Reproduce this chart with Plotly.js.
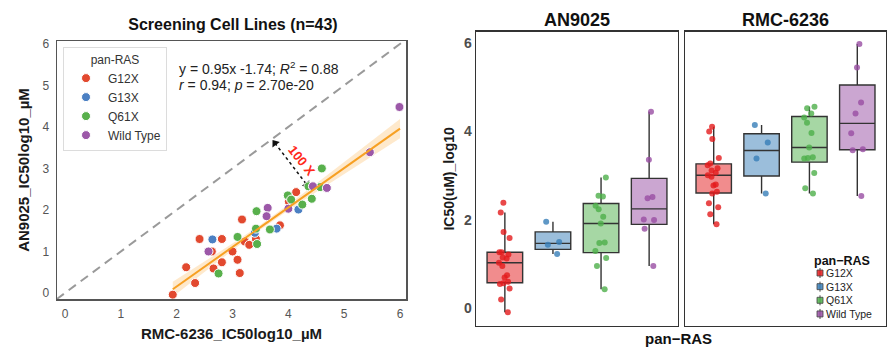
<!DOCTYPE html>
<html>
<head>
<meta charset="utf-8">
<script src="https://cdn.plot.ly/plotly-3.0.1.min.js"></script>
<style>html,body{margin:0;padding:0;background:#fff}#chart{width:893px;height:351px}</style>
</head>
<body>
<div id="chart"></div>
<script>
// ---------- scatter data (x = RMC-6236 IC50 log10, y = AN9025 IC50 log10) ----------
const groups = ['G12X', 'G13X', 'Q61X', 'Wild Type'];

const g12xRMC = [1.93, 2.17, 2.33, 2.41, 2.63, 2.66, 2.81, 2.81, 3.00, 3.09, 3.13, 3.17, 3.22, 3.30, 3.42, 3.85, 4.14, 4.01];
const g12xAN  = [-0.04, 0.62, 0.24, 1.30, 1.00, 0.59, 1.30, 0.74, 1.00, 0.80, 0.48, 1.77, 1.24, 1.16, 1.30, 1.63, 2.43, 2.20];
const g13xRMC = [2.64, 3.79, 4.18, 3.40];
const g13xAN  = [1.29, 1.55, 2.01, 1.45];
const q61xRMC = [2.75, 3.09, 3.42, 3.43, 3.44, 3.67, 3.99, 4.25, 4.42, 4.60, 4.57, 4.36, 4.05];
const q61xAN  = [0.47, 1.35, 1.55, 1.97, 1.18, 1.53, 2.35, 2.13, 2.27, 3.00, 2.55, 2.57, 2.25];
const wtRMC   = [5.99, 5.46, 4.69, 4.44, 3.63, 3.61, 4.00, 2.57];
const wtAN    = [4.48, 3.39, 2.53, 2.57, 2.05, 1.85, 2.03, 1.00];

// fitted line and its confidence band
const fitX = [1.93, 6.0];
const fitY = [0.09, 3.96];
const bandX     = [1.93, 2.5, 3.0, 3.5, 4.0, 4.5, 5.0, 5.5, 6.0];
const bandUpper = [0.27, 0.76, 1.19, 1.645, 2.13, 2.64, 3.16, 3.68, 4.19];
const bandLower = [-0.09, 0.51, 1.03, 1.525, 1.99, 2.43, 2.86, 3.29, 3.73];
const identityLine = [-0.15, 6.1];
// the "100 X" double arrow between the identity line and the fit
const arrowX = [3.76, 4.33];
const arrowY = [3.61, 2.61];

// ---------- box plot data ----------
const anG12X = [2.39, 2.17, 1.73, 1.59, 1.27, 1.27, 1.22, 1.15, 1.13, 1.03, 0.96, 0.75, 0.70, 0.60, 0.57, 0.55, 0.45, 0.20, -0.09];
const anG13X = [1.96, 1.50, 1.44, 1.23];
const anQ61X = [2.96, 2.55, 2.53, 2.32, 2.24, 2.07, 1.92, 1.49, 1.48, 1.30, 1.14, 0.96, 0.43];
const anWT   = [4.45, 3.36, 2.52, 2.49, 2.01, 2.00, 1.80, 0.96];
const rmcG12X = [4.11, 4.00, 3.83, 3.40, 3.28, 3.24, 3.17, 3.12, 3.07, 3.01, 2.98, 2.80, 2.78, 2.64, 2.60, 2.38, 2.29, 2.13, 1.90];
const rmcG13X = [4.15, 3.75, 3.39, 2.60];
const rmcQ61X = [4.56, 4.53, 4.41, 4.32, 3.97, 3.64, 3.42, 3.40, 3.39, 3.06, 2.72, 2.60, 4.20];
const rmcWT   = [5.98, 5.45, 4.66, 4.41, 3.96, 3.60, 3.58, 2.54];

const scatterColors = ['#e2492f', '#4b80c3', '#58b04c', '#9c58a8'];
const boxColors = [[228, 26, 28], [55, 126, 184], [77, 175, 74], [152, 78, 163]];
const rgba = (c, a) => `rgba(${c[0]},${c[1]},${c[2]},${a})`;

const FONT = 'Liberation Sans, Arial, Helvetica, sans-serif';
const traces = [];

// confidence band
traces.push({x: bandX, y: bandLower, mode: 'lines', line: {width: 0, color: 'rgba(0,0,0,0)'},
  showlegend: false, hoverinfo: 'skip', xaxis: 'x', yaxis: 'y'});
traces.push({x: bandX, y: bandUpper, mode: 'lines', line: {width: 0, color: 'rgba(0,0,0,0)'},
  fill: 'tonexty', fillcolor: 'rgba(253,196,120,0.38)', showlegend: false, hoverinfo: 'skip', xaxis: 'x', yaxis: 'y'});
// identity line
traces.push({x: identityLine, y: identityLine, mode: 'lines',
  line: {color: '#9a9a9a', width: 2, dash: '9px,6px'}, showlegend: false, xaxis: 'x', yaxis: 'y'});
// double arrow (dotted shaft, triangle heads)
traces.push({x: arrowX, y: arrowY, mode: 'lines+markers', showlegend: false, xaxis: 'x', yaxis: 'y',
  line: {color: '#111', width: 1.5, dash: 'dot'},
  marker: {symbol: 'triangle-up', size: 8, color: '#111', angle: [-37, 143], line: {width: 0}}});

const scX = [g12xRMC, g13xRMC, q61xRMC, wtRMC];
const scY = [g12xAN, g13xAN, q61xAN, wtAN];
groups.forEach((g, i) => {
  traces.push({x: scX[i], y: scY[i], mode: 'markers', type: 'scatter', name: g,
    marker: {color: scatterColors[i], size: 9, line: {color: '#ffffff', width: 1}},
    xaxis: 'x', yaxis: 'y', legend: 'legend'});
});
// fitted line on top
traces.push({x: fitX, y: fitY, mode: 'lines', line: {color: '#f7a023', width: 2},
  showlegend: false, xaxis: 'x', yaxis: 'y'});

const anSets = [anG12X, anG13X, anQ61X, anWT];
const rmcSets = [rmcG12X, rmcG13X, rmcQ61X, rmcWT];
function boxTrace(vals, i, xa, ya) {
  const c = boxColors[i];
  return {type: 'box', y: vals, x: vals.map(() => groups[i]), name: groups[i],
    xaxis: xa, yaxis: ya, showlegend: false,
    boxpoints: 'all', jitter: 0.45, pointpos: 0, width: 0.74, whiskerwidth: 0,
    fillcolor: rgba(c, 0.5),
    line: {color: '#333333', width: 1.4},
    marker: {color: rgba(c, 0.8), size: 6}};
}
anSets.forEach((v, i) => traces.push(boxTrace(v, i, 'x2', 'y2')));
rmcSets.forEach((v, i) => traces.push(boxTrace(v, i, 'x3', 'y3')));

const catAxis = (dom, anchor) => ({domain: dom, anchor: anchor, type: 'category',
  categoryorder: 'array', categoryarray: groups, range: [-0.6, 3.6],
  showticklabels: false, ticks: '', showgrid: false, zeroline: false,
  showline: true, mirror: true, linecolor: '#333', linewidth: 1.3});

// right-hand legend (ggplot style, compact): one multi-line text block + small key shapes
const LEG_FS = 10.5;
const rowGap = LEG_FS * 1.3;
const rowTop = 273;
const keyRows = groups.map((g, i) => rowTop + i * rowGap);
const legendShapes = [];
groups.forEach((g, i) => {
  const yc = keyRows[i];
  legendShapes.push({type: 'line', xref: 'paper', yref: 'paper', x0: 820 / 893, x1: 820 / 893,
    y0: 1 - (yc - 5) / 351, y1: 1 - (yc + 5) / 351, line: {color: '#444', width: 1}});
  legendShapes.push({type: 'rect', xref: 'paper', yref: 'paper', x0: 817 / 893, x1: 823 / 893,
    y0: 1 - (yc - 3) / 351, y1: 1 - (yc + 3) / 351, fillcolor: rgba(boxColors[i], 0.85),
    line: {color: '#444', width: 0.8}});
});
const legendAnn = [
  {xref: 'paper', yref: 'paper', x: 812 / 893, y: 1 - (rowTop - 12) / 351, xanchor: 'left', yanchor: 'middle',
    text: '<b>pan−RAS</b>', showarrow: false, font: {size: 12.5, color: '#111'}},
  {xref: 'paper', yref: 'paper', x: 824.5 / 893, y: 1 - (rowTop - rowGap / 2) / 351, xanchor: 'left', yanchor: 'top',
    align: 'left', borderpad: 0, text: groups.join('<br>'), showarrow: false, font: {size: LEG_FS, color: '#222'}}
];

const layout = {
  width: 893, height: 351, margin: {l: 0, r: 0, t: 0, b: 0},
  paper_bgcolor: '#fff', plot_bgcolor: '#fff',
  font: {family: FONT, color: '#222'},
  showlegend: true,
  title: {text: '<b>Screening Cell Lines (n=43)</b>', x: 233 / 893, xanchor: 'center',
    y: 1 - 24 / 351, yanchor: 'middle', font: {size: 16, color: '#111', family: FONT}},
  xaxis: {domain: [57 / 893, 406 / 893], anchor: 'y', range: [-0.143, 6.107],
    tickvals: [0, 1, 2, 3, 4, 5, 6], ticks: '', ticklen: 0, ticklabelstandoff: 3,
    tickfont: {size: 12, color: '#555'}, showgrid: false, zeroline: false,
    showline: true, mirror: true, linecolor: '#555', linewidth: 1.5,
    title: {text: '<b>RMC-6236_IC50log10_µM</b>', standoff: 8, font: {size: 15, color: '#1a1a1a'}}},
  yaxis: {domain: [1 - 299 / 351, 1 - 41 / 351], anchor: 'x', range: [-0.145, 6.07],
    tickvals: [0, 1, 2, 3, 4, 5, 6], ticks: '', ticklen: 0, ticklabelstandoff: 4,
    tickfont: {size: 12, color: '#555'}, showgrid: false, zeroline: false,
    showline: true, mirror: true, linecolor: '#555', linewidth: 1.5,
    title: {text: '<b>AN9025_IC50log10_µM</b>', standoff: 9, font: {size: 15, color: '#1a1a1a'}}},
  xaxis2: catAxis([476 / 893, 678 / 893], 'y2'),
  xaxis3: catAxis([685 / 893, 886 / 893], 'y3'),
  yaxis2: {domain: [1 - 326 / 351, 1 - 31.7 / 351], anchor: 'x2', range: [-0.4, 6.26],
    tickvals: [0, 2, 4, 6], ticktext: ['<b>0</b>', '<b>2</b>', '<b>4</b>', '<b>6</b>'],
    ticks: '', ticklen: 0, ticklabelstandoff: 0, tickfont: {size: 14, color: '#4d4d4d'},
    showgrid: false, zeroline: false,
    showline: true, mirror: true, linecolor: '#333', linewidth: 1.3,
    title: {text: '<b>IC50(uM)_log10</b>', standoff: 6, font: {size: 14, color: '#1a1a1a'}}},
  yaxis3: {domain: [1 - 326 / 351, 1 - 31.7 / 351], anchor: 'x3', range: [-0.4, 6.26],
    showticklabels: false, ticks: '', showgrid: false, zeroline: false,
    showline: true, mirror: true, linecolor: '#333', linewidth: 1.3},
  legend: {x: 63 / 893, y: 1 - 47 / 351, xanchor: 'left', yanchor: 'top', traceorder: 'normal',
    bgcolor: '#fff', bordercolor: '#dcdcdc', borderwidth: 1,
    font: {size: 12, color: '#333'}, itemwidth: 34,
    title: {text: 'pan-RAS', side: 'top center', font: {size: 12, color: '#333'}}},
  shapes: legendShapes,
  annotations: [
    {xref: 'x', yref: 'y', x: 4.24, y: 3.2, text: '<b>100 X</b>', showarrow: false,
      textangle: 52, font: {size: 13, color: '#ff2a1a'}},
    {xref: 'paper', yref: 'paper', x: 177 / 893, y: 1 - 68 / 351, xanchor: 'left', yanchor: 'middle',
      text: 'y = 0.95x -1.74; <i>R</i><sup>2</sup> = 0.88', showarrow: false, font: {size: 14, color: '#222'}},
    {xref: 'paper', yref: 'paper', x: 177 / 893, y: 1 - 85 / 351, xanchor: 'left', yanchor: 'middle',
      text: '<i>r</i> = 0.94; <i>p</i> = 2.70e-20', showarrow: false, font: {size: 14, color: '#222'}},
    {xref: 'paper', yref: 'paper', x: 577 / 893, y: 1 - 20 / 351, xanchor: 'center', yanchor: 'middle',
      text: '<b>AN9025</b>', showarrow: false, font: {size: 18, color: '#111'}},
    {xref: 'paper', yref: 'paper', x: 785 / 893, y: 1 - 20 / 351, xanchor: 'center', yanchor: 'middle',
      text: '<b>RMC-6236</b>', showarrow: false, font: {size: 18, color: '#111'}},
    {xref: 'paper', yref: 'paper', x: 678 / 893, y: 1 - 338 / 351, xanchor: 'center', yanchor: 'middle',
      text: '<b>pan−RAS</b>', showarrow: false, font: {size: 15, color: '#111'}}
  ].concat(legendAnn)
};

Plotly.newPlot('chart', traces, layout, {displayModeBar: false, staticPlot: true});
</script>
</body>
</html>
